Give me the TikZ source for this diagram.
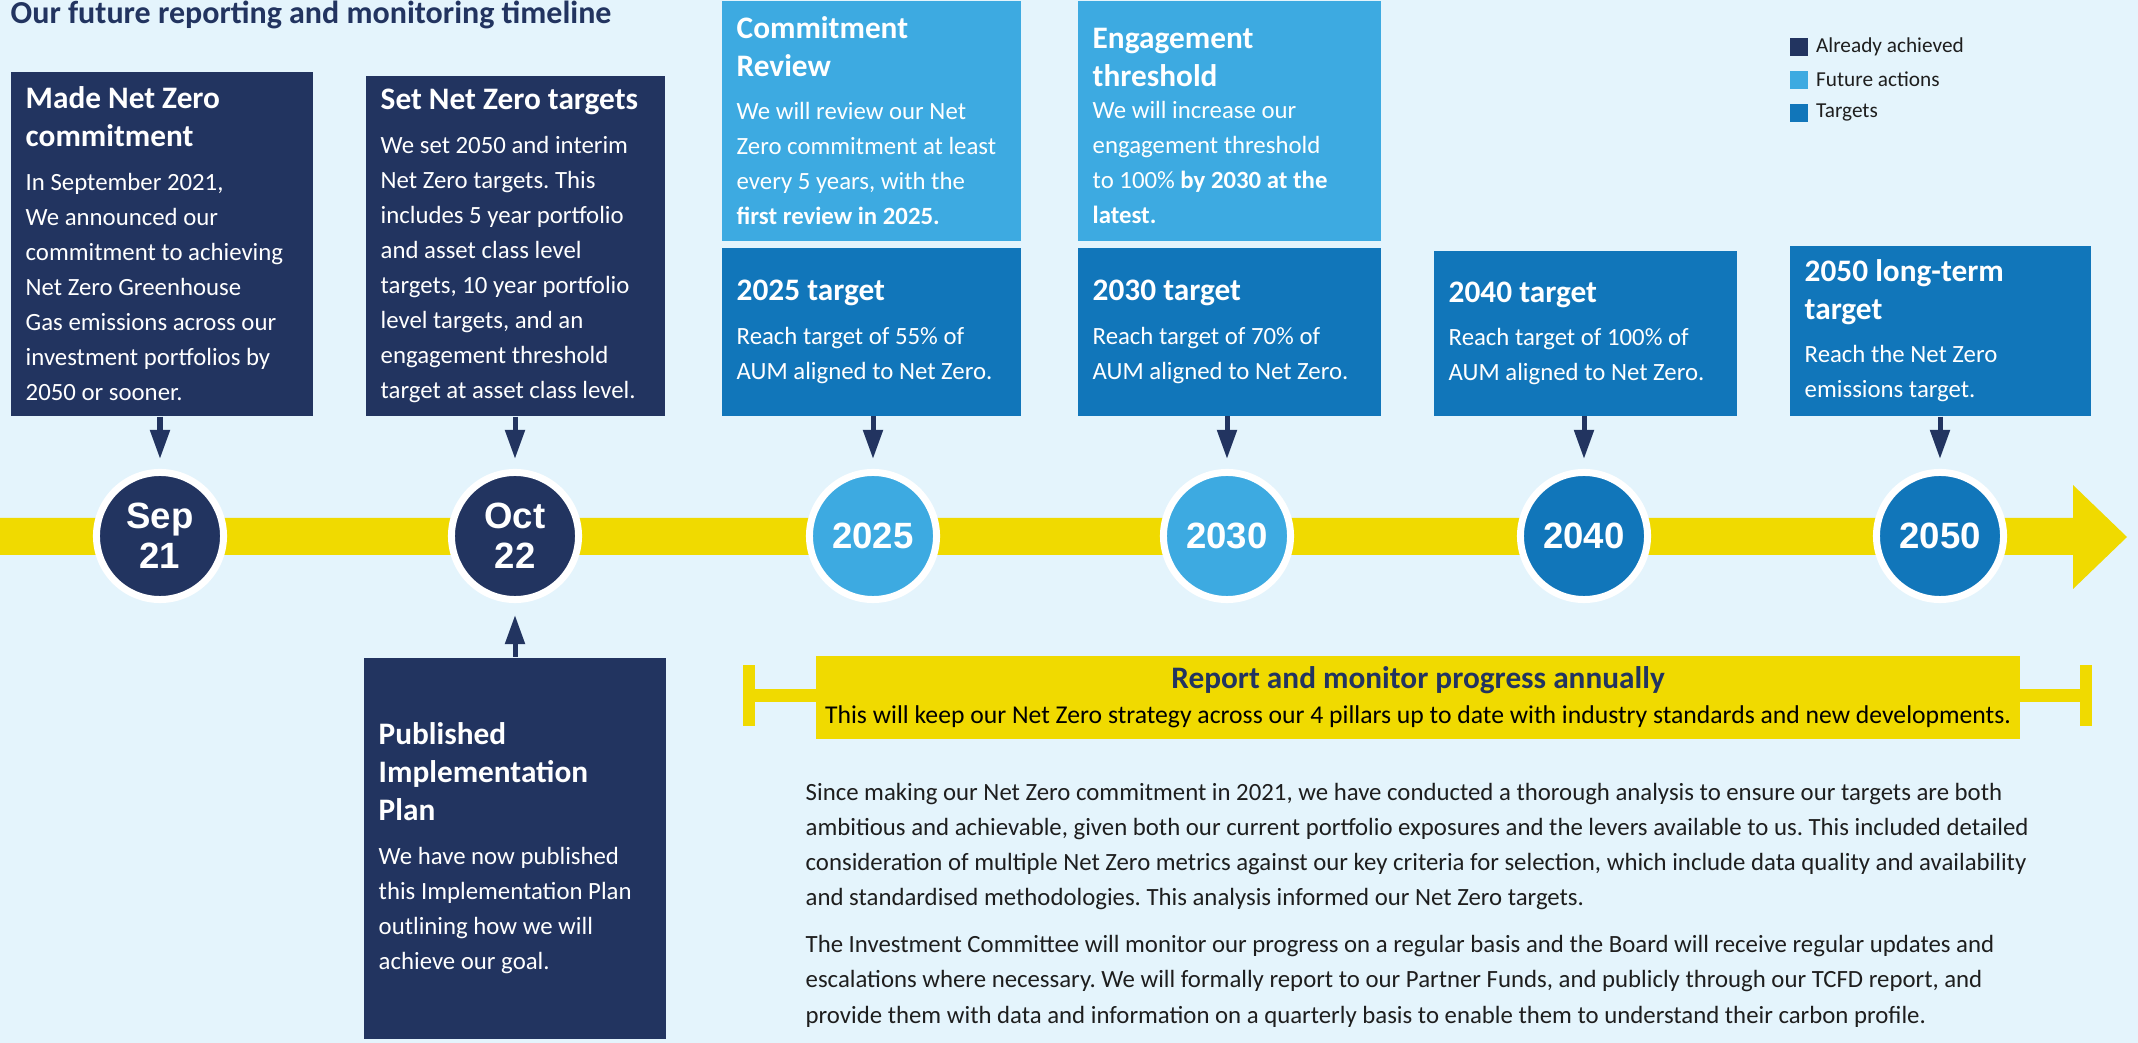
\documentclass[tikz,border=0pt]{standalone}
\usepackage{fontspec}
\setmainfont{Carlito}
\newfontfamily\yearfont{Liberation Sans}
\usetikzlibrary{arrows.meta,positioning}
\definecolor{bgblue}{HTML}{E4F4FC}
\definecolor{navy}{HTML}{223460}
\definecolor{skyblue}{HTML}{3DAAE1}
\definecolor{midblue}{HTML}{1176BA}
\definecolor{baryellow}{HTML}{F0DA00}
\definecolor{inkgray}{HTML}{1E1E1E}
\frenchspacing
\newcommand{\headf}{\fontsize{9.1pt}{11pt}\selectfont\bfseries}
\newcommand{\ttlf}{\fontsize{8.9pt}{10.8pt}\selectfont\bfseries}
\newcommand{\bodyf}{\fontsize{7.05pt}{9.96pt}\selectfont}
\newcommand{\ttl}[2][2.4pt]{\leftskip=0.15cm\relax{\ttlf #2\par}\vspace{#1}}

\begin{document}
\begin{tikzpicture}[x=0.01cm,y=-0.01cm,>={Triangle[length=0.29cm,width=0.19cm]},
  infobox/.style={anchor=north west,inner sep=0,align=flush left,text=white,font=\bodyf},
  boxw/.style={minimum width=#1,text width=#1},
  yeardot/.style={circle,draw=white,line width=0.07cm,minimum size=1.27cm,inner sep=0,text=white,
    font=\yearfont\bfseries\fontsize{10.4pt}{11.4pt}\selectfont,align=center},
  linkarrow/.style={->,draw=navy,line width=0.05cm,shorten >=0.1cm},
  legsq/.style={anchor=north west,minimum size=0.18cm,inner sep=0},
  legtxt/.style={inner sep=0,font=\fontsize{6.05pt}{7pt}\selectfont,text=inkgray}]
\useasboundingbox (0,0) rectangle (2138,1043);
\fill[bgblue] (0,0) rectangle (2138,1043);

% title and legend
\node[anchor=base west,inner sep=0,font=\headf,text=navy] (title) at (10,24) {Our future reporting and monitoring timeline};
\node[legsq,fill=navy] (l1) at (1789,37) {};
\node[legsq,fill=skyblue] (l2) at (1789,70) {};
\node[legsq,fill=midblue] (l3) at (1789,103) {};
\node[legtxt,right=0.07cm of l1] (t1) {Already achieved};
\node[legtxt,right=0.07cm of l2] (t2) {Future actions};
\node[legtxt,right=0.07cm of l3] (t3) {Targets};

% timeline
\fill[baryellow] (0,518) -- (2073,518) -- (2073,485) -- (2127,537) -- (2073,589) -- (2073,555) -- (0,555) -- cycle;
\node[yeardot,fill=navy] (c1) at (160,536) {Sep\\21};
\node[yeardot,fill=navy] (c2) at (515,536) {Oct\\22};
\node[yeardot,fill=skyblue] (c3) at (873,536) {2025};
\node[yeardot,fill=skyblue] (c4) at (1227,536) {2030};
\node[yeardot,fill=midblue] (c5) at (1584,536) {2040};
\node[yeardot,fill=midblue] (c6) at (1940,536) {2050};

% boxes
\node[infobox,fill=navy,boxw=3.02cm,minimum height=3.44cm] (b1) at (10,71)
  {\ttl{Made Net Zero\\commitment}In September 2021,\\We announced our\\commitment to achieving\\Net Zero Greenhouse\\Gas emissions across our\\investment portfolios by\\2050 or sooner.\par};
\node[infobox,fill=navy,boxw=2.99cm,minimum height=3.40cm] (b2) at (365,75)
  {\ttl{Set Net Zero targets}We set 2050 and interim\\Net Zero targets. This\\includes 5 year portfolio\\and asset class level\\targets, 10 year portfolio\\level targets, and an\\engagement threshold\\target at asset class level.\par};
\node[infobox,fill=skyblue,boxw=2.99cm,minimum height=2.40cm] (b3a) at (721,0)
  {\ttl{Commitment\\Review}We will review our Net\\Zero commitment at least\\every 5 years, with the\\\textbf{first review in 2025.}\par};
\node[infobox,fill=midblue,boxw=2.99cm,minimum height=1.68cm] (b3) at (721,247)
  {\ttl{2025 target}Reach target of 55\% of\\AUM aligned to Net Zero.\par};
\node[infobox,fill=skyblue,boxw=3.03cm,minimum height=2.40cm] (b4a) at (1077,0)
  {\ttl[-0.85pt]{\rule{0pt}{8.8pt}Engagement\\threshold}We will increase our\\engagement threshold\\to 100\% \textbf{by 2030 at the}\\\textbf{latest.}\par};
\node[infobox,fill=midblue,boxw=3.03cm,minimum height=1.68cm] (b4) at (1077,247)
  {\ttl{2030 target}Reach target of 70\% of\\AUM aligned to Net Zero.\par};
\node[infobox,fill=midblue,boxw=3.03cm,minimum height=1.65cm] (b5) at (1433,250)
  {\ttl{2040 target}Reach target of 100\% of\\AUM aligned to Net Zero.\par};
\node[infobox,fill=midblue,boxw=3.01cm,minimum height=1.70cm] (b6) at (1789,245)
  {\ttl{2050 long-term\\target}Reach the Net Zero\\emissions target.\par};
\node[infobox,fill=navy,boxw=3.02cm,minimum height=3.81cm] (b7) at (363,657)
  {\ttl{Published\\Implementation\\Plan}We have now published\\this Implementation Plan\\outlining how we will\\achieve our goal.\par};

% arrows
\draw[linkarrow] (c1 |- b1.south) -- (c1.north);
\draw[linkarrow] (c2 |- b2.south) -- (c2.north);
\draw[linkarrow] (c3 |- b3.south) -- (c3.north);
\draw[linkarrow] (c4 |- b4.south) -- (c4.north);
\draw[linkarrow] (c5 |- b5.south) -- (c5.north);
\draw[linkarrow] (c6 |- b6.south) -- (c6.north);
\draw[linkarrow,shorten >=0.12cm] (c2 |- b7.north) -- (c2.south);

% report bracket
\fill[baryellow] (743,689) rectangle (2092,702);
\fill[baryellow] (743,665) rectangle (755,726);
\fill[baryellow] (2080,665) rectangle (2092,726);
\node[anchor=north west,fill=baryellow,minimum width=12.04cm,text width=12.04cm,minimum height=0.83cm,inner sep=0,align=flush center,font=\fontsize{7.3pt}{9.96pt}\selectfont] (rep) at (815,655)
  {{\ttlf\color{navy}Report and monitor progress annually\par}{\color{black}This will keep our Net Zero strategy across our 4 pillars up to date with industry standards and new developments.\par}};

% text
\node[anchor=north west,inner sep=0,text width=13.2cm,align=flush left,font=\bodyf,text=inkgray] (para) at (805,783)
  {Since making our Net Zero commitment in 2021, we have conducted a thorough analysis to ensure our targets are both\\
  ambitious and achievable, given both our current portfolio exposures and the levers available to us. This included detailed\\
  consideration of multiple Net Zero metrics against our key criteria for selection, which include data quality and availability\\
  and standardised methodologies. This analysis informed our Net Zero targets.\par\vspace{3.4pt}
  The Investment Committee will monitor our progress on a regular basis and the Board will receive regular updates and\\
  escalations where necessary. We will formally report to our Partner Funds, and publicly through our TCFD report, and\\
  provide them with data and information on a quarterly basis to enable them to understand their carbon profile.};
\end{tikzpicture}
\end{document}
